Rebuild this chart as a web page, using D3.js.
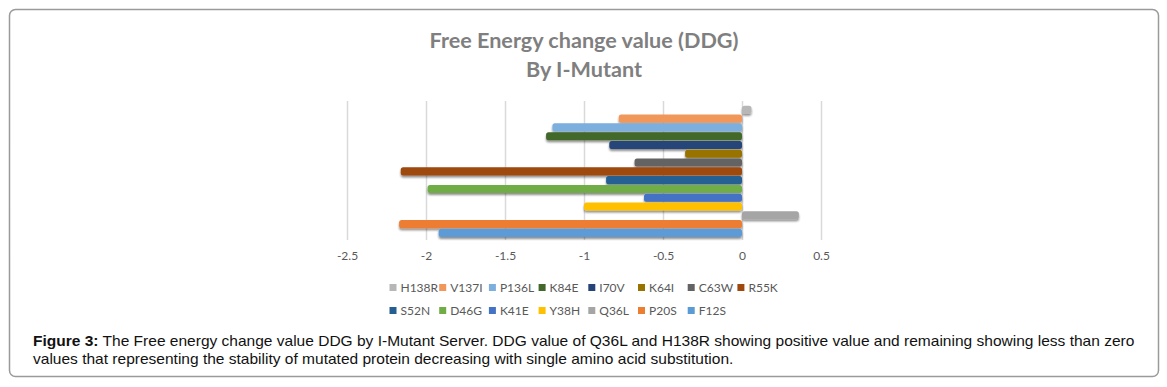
<!DOCTYPE html>
<html>
<head>
<meta charset="utf-8">
<script src="https://cdn.jsdelivr.net/npm/d3@7"></script>
<style>
  body { margin: 0; background: #fff; }
  svg { display: block; }
</style>
</head>
<body>
<div id="chart"></div>
<script>
// Mutations, top to bottom as drawn (also legend order)
const mutations = ['H138R', 'V137I', 'P136L', 'K84E', 'I70V', 'K64I', 'C63W', 'R55K',
                   'S52N', 'D46G', 'K41E', 'Y38H', 'Q36L', 'P20S', 'F12S'];
const ddgValues = [0.06, -0.78, -1.2, -1.24, -0.84, -0.36, -0.68, -2.16,
                   -0.86, -1.99, -0.62, -1.0, 0.36, -2.17, -1.92];
const barColors = ['#B7B7B7', '#F1975A', '#7CAFDD', '#43682B', '#264478', '#997300', '#636363', '#9E480E',
                   '#255E91', '#70AD47', '#4472C4', '#FFC000', '#A5A5A5', '#ED7D31', '#5B9BD5'];
const xTicks = [-2.5, -2, -1.5, -1, -0.5, 0, 0.5];
const titleLines = ['Free Energy change value (DDG)', 'By I-Mutant'];
const captionBold = 'Figure 3:';
const captionLines = [
  ' The Free energy change value DDG by I-Mutant Server. DDG value of Q36L and H138R showing positive value and remaining showing less than zero',
  'values that representing the stability of mutated protein decreasing with single amino acid substitution.'
];

const W = 1167, H = 387;
const svg = d3.select('#chart').append('svg')
    .attr('width', W)
    .attr('height', H);

svg.append('rect').attr('width', W).attr('height', H).attr('fill', '#fff');

// drop shadow for the bars
const defs = svg.append('defs');
const shadow = defs.append('filter').attr('id', 'shadow')
    .attr('x', '-10%').attr('y', '-40%').attr('width', '120%').attr('height', '200%');
shadow.append('feGaussianBlur').attr('in', 'SourceAlpha').attr('stdDeviation', 1.2).attr('result', 'blur');
shadow.append('feOffset').attr('in', 'blur').attr('dx', 0).attr('dy', 1.5).attr('result', 'off');
shadow.append('feComponentTransfer').attr('in', 'off').attr('result', 'soft')
    .append('feFuncA').attr('type', 'linear').attr('slope', 0.45);
const merge = shadow.append('feMerge');
merge.append('feMergeNode').attr('in', 'soft');
merge.append('feMergeNode').attr('in', 'SourceGraphic');

// outer frame
svg.append('rect')
    .attr('x', 9.5).attr('y', 9.5)
    .attr('width', 1149).attr('height', 367)
    .attr('rx', 6)
    .attr('fill', 'none')
    .attr('stroke', '#9a9a9a')
    .attr('stroke-width', 1.5);

// title
const title = svg.append('text')
    .attr('text-anchor', 'middle')
    .style('font-family', 'Lato, "Open Sans", sans-serif')
    .style('font-weight', 'bold')
    .style('fill', '#7f7f7f');
titleLines.forEach((t, i) => {
    title.append('tspan').attr('x', 584).attr('y', 48 + i * 29).text(t);
});
title.style('font-size', '20px');
const tw = title.select('tspan').node().getComputedTextLength();
title.style('font-size', (20 * 309 / tw).toFixed(2) + 'px');

// scales
const x = d3.scaleLinear().domain([-2.5, 0.5]).range([347, 821]);
const y = d3.scaleBand().domain(mutations).range([105.4, 237.3])
    .paddingInner(0.08).paddingOuter(0.04);

// gridlines
svg.append('g')
    .attr('transform', 'translate(0,101)')
    .call(d3.axisBottom(x).tickValues(xTicks).tickSize(139).tickFormat(''))
    .call(g => g.select('.domain').remove())
    .call(g => g.selectAll('.tick line').attr('stroke', '#d9d9d9').attr('stroke-width', 1.5));

// tick labels
svg.append('g')
    .attr('transform', 'translate(0,251)')
    .call(d3.axisBottom(x).tickValues(xTicks).tickSize(0).tickPadding(0).tickFormat(d => String(d)))
    .call(g => g.select('.domain').remove())
    .call(g => g.selectAll('.tick text')
        .style('font-family', 'Lato, "Open Sans", sans-serif')
        .style('font-size', '12px')
        .attr('fill', '#595959'));

// bars
svg.append('g').attr('filter', 'url(#shadow)')
  .selectAll('rect')
  .data(mutations)
  .join('rect')
    .attr('x', (d, i) => x(Math.min(0, ddgValues[i])))
    .attr('y', d => y(d))
    .attr('width', (d, i) => Math.abs(x(ddgValues[i]) - x(0)))
    .attr('height', y.bandwidth())
    .attr('rx', 2.5)
    .attr('fill', (d, i) => barColors[i]);

// legend, 8 per row
const legend = svg.append('g')
    .style('font-family', 'Lato, "Open Sans", sans-serif')
    .style('font-size', '12px');
const item = legend.selectAll('g')
  .data(mutations)
  .join('g')
    .attr('transform', (d, i) => `translate(${389.5 + (i % 8) * 49.7},${287.5 + Math.floor(i / 8) * 23})`);
item.append('rect')
    .attr('x', 0).attr('y', -3.5)
    .attr('width', 7).attr('height', 7)
    .attr('fill', (d, i) => barColors[i]);
item.append('text')
    .attr('x', 11).attr('y', 4.3)
    .attr('fill', '#595959')
    .text(d => d);

// caption, sized so the first line spans the box like the original
const cap = svg.append('g')
    .style('font-family', '"Liberation Sans", Arial, sans-serif')
    .style('font-size', '14px')
    .style('fill', '#111');
const line1 = cap.append('text').attr('x', 33).attr('y', 346);
line1.append('tspan').style('font-weight', 'bold').text(captionBold);
line1.append('tspan').style('white-space', 'pre').text(captionLines[0]);
cap.append('text').attr('x', 33).attr('y', 364).text(captionLines[1]);
const cw = line1.node().getComputedTextLength();
cap.style('font-size', (14 * 1102 / cw).toFixed(2) + 'px');
</script>
</body>
</html>
